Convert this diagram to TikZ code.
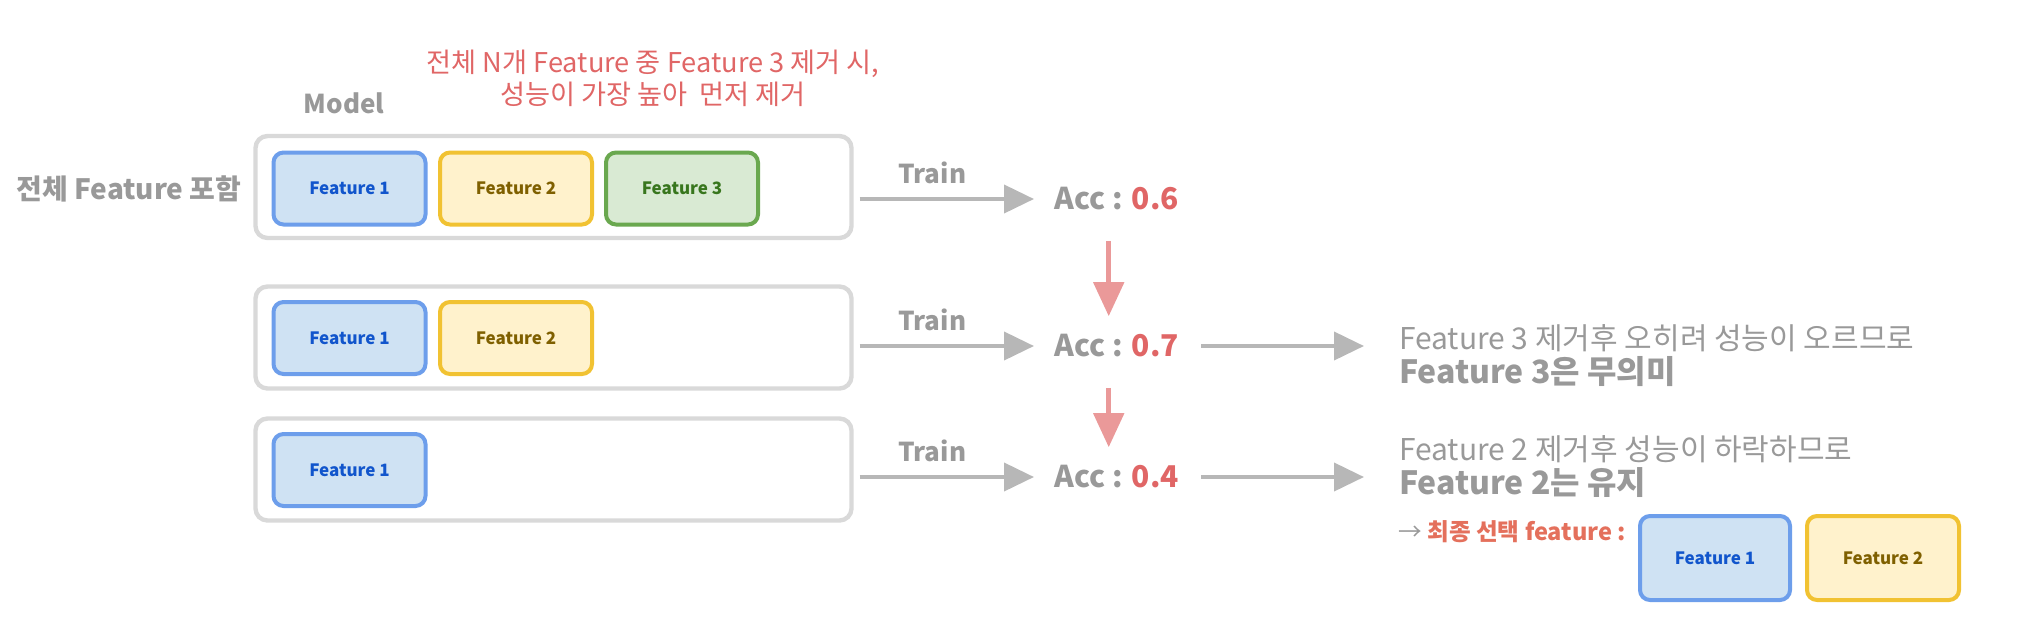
\documentclass[tikz,border=0pt]{standalone}
\usepackage{fontspec}
\setmainfont{Noto Sans CJK KR}
\usepackage{xcolor}
\usetikzlibrary{positioning,arrows.meta}
\definecolor{boxgray}{RGB}{217,217,217}
\definecolor{arrgray}{RGB}{183,183,183}
\definecolor{txtgray}{RGB}{153,153,153}
\definecolor{accred}{RGB}{224,102,102}
\definecolor{pinkarr}{RGB}{234,153,153}
\definecolor{pickred}{RGB}{228,112,92}
\definecolor{fonefill}{RGB}{207,226,243}
\definecolor{foneline}{RGB}{109,158,235}
\definecolor{fonetext}{RGB}{17,85,204}
\definecolor{ftwofill}{RGB}{255,242,204}
\definecolor{ftwoline}{RGB}{241,194,50}
\definecolor{ftwotext}{RGB}{127,96,0}
\definecolor{fthreefill}{RGB}{217,234,211}
\definecolor{fthreeline}{RGB}{106,168,79}
\definecolor{fthreetext}{RGB}{56,118,29}

\begin{document}
\begin{tikzpicture}[
  x=0.5pt, y=-0.5pt,
  model/.style={draw=boxgray, line width=2.2pt, rounded corners=6pt, minimum width=298pt, minimum height=51pt, inner sep=0pt},
  feat/.style={line width=2pt, rounded corners=5pt, minimum width=76pt, minimum height=36pt, inner sep=0pt, font=\fontsize{8.5}{10}\selectfont\bfseries},
  fone/.style={feat, draw=foneline, fill=fonefill, text=fonetext},
  ftwo/.style={feat, draw=ftwoline, fill=ftwofill, text=ftwotext},
  fthree/.style={feat, draw=fthreeline, fill=fthreefill, text=fthreetext},
  acc/.style={anchor=west, inner sep=2pt, text=txtgray, font=\fontsize{15}{17}\selectfont\bfseries},
  lbl/.style={text=txtgray, font=\fontsize{13}{15}\selectfont\bfseries},
  note/.style={anchor=west, align=left, text=txtgray, font=\fontsize{15}{17}\selectfont},
  arr/.style={-{Triangle[length=15pt,width=14pt]}, line width=2pt, draw=arrgray},
  down/.style={-{Triangle[length=17pt,width=15pt]}, line width=2.5pt, draw=pinkarr}
]
\useasboundingbox (0,0) rectangle (2026,628);
% model boxes
\node[model] at (553.5,187)   (m1) {};
\node[model] at (553.5,337.5) (m2) {};
\node[model] at (553.5,469.5) (m3) {};
\node[fone]   at (349.5,188.5) (a1) {Feature 1};
\node[ftwo]   at (516,188.5)   (a2) {Feature 2};
\node[fthree] at (682,188.5)   (a3) {Feature 3};
\node[fone]   at (349.5,338)   (b1) {Feature 1};
\node[ftwo]   at (516,338)     (b2) {Feature 2};
\node[fone]   at (349.5,470)   (c1) {Feature 1};
% labels
\node[lbl] at (344,103) (mlbl) {Model};
\node[lbl, font=\fontsize{14}{16}\selectfont\bfseries] at (129,189) (all) {전체 Feature 포함};
\node[align=center, text=accred, font=\fontsize{13.6}{16}\selectfont] at (653,78) (hint) {전체 N개 Feature 중 Feature 3 제거 시,\\성능이 가장 높아~~먼저 제거};
% accuracies
\node[acc] at (1050,199) (acc1) {Acc : \textcolor{accred}{0.6}};
\node[acc] at (1050,346) (acc2) {Acc : \textcolor{accred}{0.7}};
\node[acc] at (1050,477) (acc3) {Acc : \textcolor{accred}{0.4}};
\draw[arr, shorten <=3pt, shorten >=8pt] (m1.east |- acc1.west) -- node[lbl, above=3pt, pos=0.4]{Train} (acc1.west);
\draw[arr, shorten <=3pt, shorten >=8pt] (m2.east |- acc2.west) -- node[lbl, above=3pt, pos=0.4]{Train} (acc2.west);
\draw[arr, shorten <=3pt, shorten >=8pt] (m3.east |- acc3.west) -- node[lbl, above=3pt, pos=0.4]{Train} (acc3.west);
\draw[down, shorten <=13pt, shorten >=7pt] ([xshift=-4pt]acc1.south) -- ([xshift=-4pt]acc2.north);
\draw[down, shorten <=13pt, shorten >=7pt] ([xshift=-4pt]acc2.south) -- ([xshift=-4pt]acc3.north);
% conclusions
\node[note] at (1392,356) (r2) {Feature 3 제거후 오히려 성능이 오르므로\\{\fontsize{16}{17}\selectfont\bfseries Feature 3은 무의미}};
\node[note] at (1392,467) (r3) {Feature 2 제거후 성능이 하락하므로\\{\fontsize{16}{17}\selectfont\bfseries Feature 2는 유지}};
\draw[arr, shorten <=9pt, shorten >=14pt] (acc2.east) -- (acc2.east -| r2.west);
\draw[arr, shorten <=9pt, shorten >=14pt] (acc3.east) -- (acc3.east -| r3.west);
\node[anchor=west, inner sep=2pt, text=pickred, font=\fontsize{11.8}{13}\selectfont\bfseries] at (1394,532) (pick) {\textcolor{txtgray}{\mdseries →} 최종 선택 feature :};
\node[fone, minimum width=75pt, minimum height=42pt] at (1715,558) (s1) {Feature 1};
\node[ftwo, minimum width=76pt, minimum height=42pt] at (1883,558) (s2) {Feature 2};
\end{tikzpicture}
\end{document}
